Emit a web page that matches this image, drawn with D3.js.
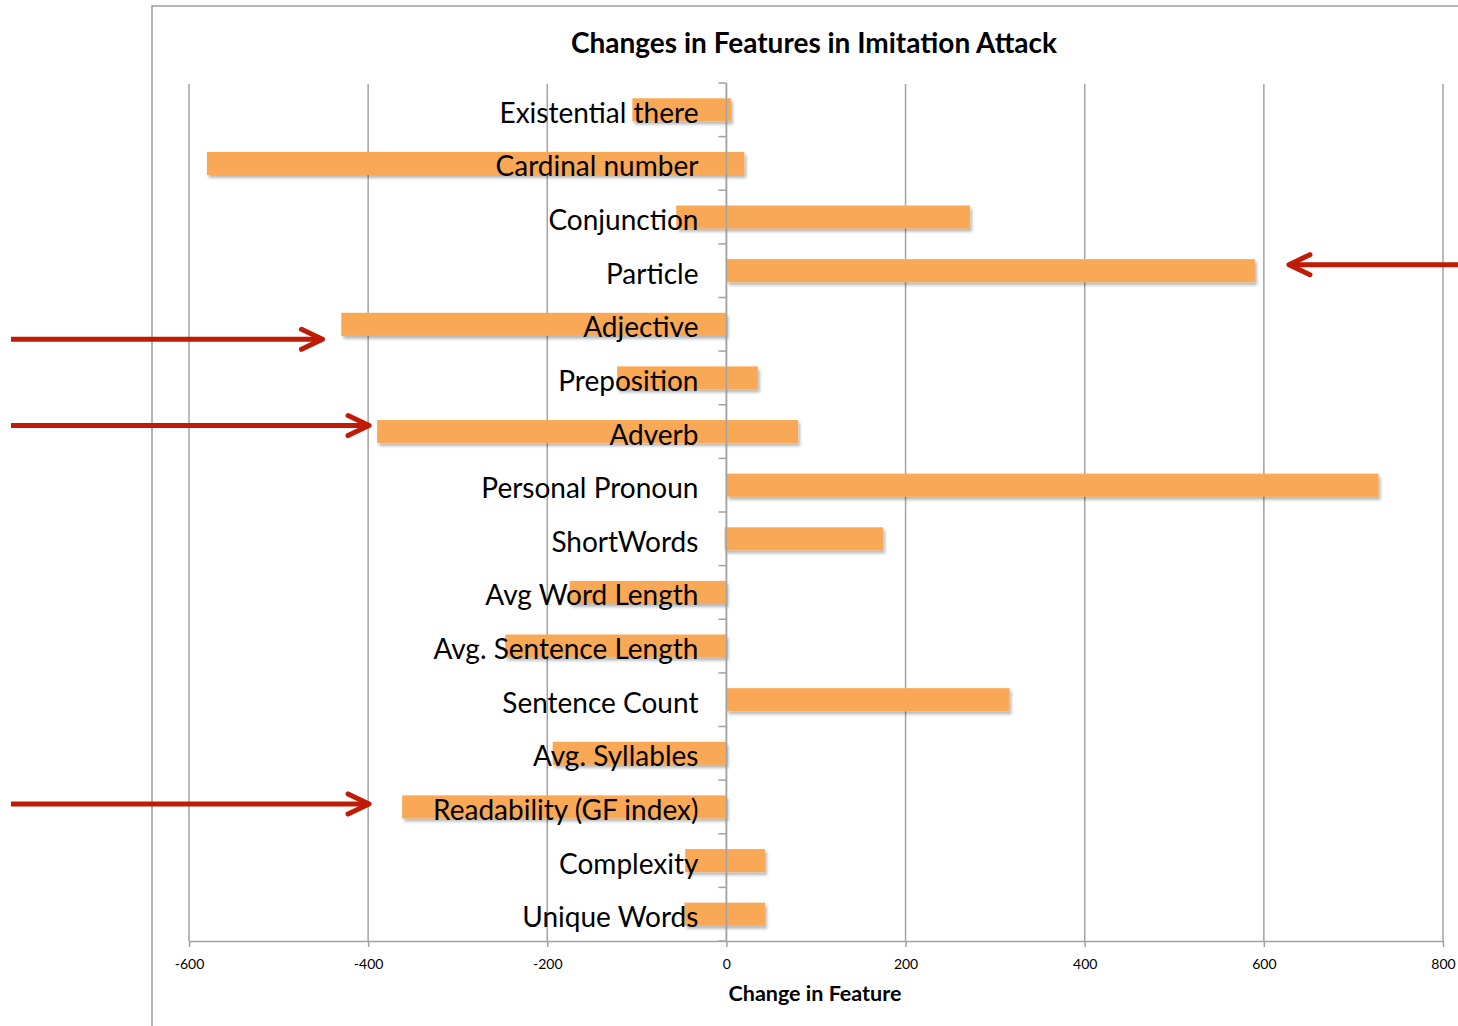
<!DOCTYPE html>
<html>
<head>
<meta charset="utf-8">
<script src="https://cdn.jsdelivr.net/npm/d3@7"></script>
<style>
  body { margin: 0; background: #fff; }
  svg { display: block; }
</style>
</head>
<body>
<svg id="chart" width="1458" height="1026"></svg>
<script>
// Features, top to bottom
const categories = [
  "Existential there", "Cardinal number", "Conjunction", "Particle",
  "Adjective", "Preposition", "Adverb", "Personal Pronoun", "ShortWords",
  "Avg Word Length", "Avg. Sentence Length", "Sentence Count",
  "Avg. Syllables", "Readability (GF index)", "Complexity", "Unique Words"
];
// Summed decreases (stacked to the left of zero)
const decreases = [-105, -580, -56, 0, -430, -122, -390, 0, -2, -175, -247, 0, -194, -362, -46, -47];
// Summed increases (stacked to the right of zero)
const increases = [5, 20, 272, 590, 0, 35, 80, 728, 175, 0, 0, 316, 0, 0, 43, 43];
const xTicks = [-600, -400, -200, 0, 200, 400, 600, 800];

// Red call-out arrows: the feature pointed at and the value where the head sits
const callouts = [
  { feature: "Particle", tip: 628, from: "right" },
  { feature: "Adjective", tip: -451, from: "left" },
  { feature: "Adverb", tip: -399, from: "left" },
  { feature: "Readability (GF index)", tip: -399, from: "left" }
];
const calloutShift = { "Particle": -6, "Adjective": 15, "Adverb": -6, "Readability (GF index)": -3 };

const svg = d3.select("#chart");
const W = 1458, H = 1026;
const plot = { left: 189, right: 1443, top: 83, bottom: 941 };
const font = "Lato, 'Open Sans', sans-serif";

const x = d3.scaleLinear().domain([-600, 800]).range([plot.left, plot.right]);
const y = d3.scaleBand().domain(categories).range([plot.top, plot.bottom]).paddingInner(0.57).paddingOuter(0.285);

const defs = svg.append("defs");
const shadow = defs.append("filter").attr("id", "barShadow")
  .attr("x", "-5%").attr("y", "-40%").attr("width", "110%").attr("height", "190%");
shadow.append("feDropShadow")
  .attr("dx", 2).attr("dy", 3).attr("stdDeviation", 1.8)
  .attr("flood-color", "#000").attr("flood-opacity", 0.28);

// Outer chart frame (left and top edges)
svg.append("path")
  .attr("d", `M152,${H} V6 H${W}`)
  .attr("fill", "none").attr("stroke", "#9c9c9c").attr("stroke-width", 1.5);

// Title
svg.append("text")
  .attr("x", 814).attr("y", 53)
  .attr("text-anchor", "middle")
  .attr("font-family", font).attr("font-weight", 700).attr("font-size", 28)
  .text("Changes in Features in Imitation Attack");

// Vertical gridlines
svg.append("g").selectAll("line").data(xTicks).join("line")
  .attr("x1", d => x(d)).attr("x2", d => x(d))
  .attr("y1", plot.top + 1).attr("y2", plot.bottom)
  .attr("stroke", "#a3a3a3").attr("stroke-width", 1.5);

// Bars: decrease part and increase part of each feature
const rows = categories.map((c, i) => ({ c, lo: decreases[i], hi: increases[i] }));
svg.append("g").attr("filter", "url(#barShadow)")
  .selectAll("rect").data(rows).join("rect")
  .attr("x", d => x(d.lo))
  .attr("width", d => x(d.hi) - x(d.lo))
  .attr("y", d => y(d.c))
  .attr("height", y.bandwidth())
  .attr("fill", "#f9a857");

// X axis
const xAxis = svg.append("g").attr("transform", `translate(0,${plot.bottom})`)
  .call(d3.axisBottom(x).tickValues(xTicks).tickFormat(d => String(d))
    .tickSize(6).tickPadding(12).tickSizeOuter(0));
xAxis.select(".domain").attr("stroke", "#a3a3a3").attr("stroke-width", 1.5);
xAxis.selectAll(".tick line").attr("stroke", "#a3a3a3").attr("stroke-width", 1.5);
xAxis.selectAll(".tick text")
  .attr("font-family", font).attr("font-size", 14).attr("fill", "#000");

// Y axis at zero with ticks between categories
const bounds = d3.range(categories.length + 1).map(i => plot.top + i * y.step());
const yAxis = svg.append("g");
yAxis.append("line")
  .attr("x1", x(0)).attr("x2", x(0)).attr("y1", plot.top).attr("y2", plot.bottom)
  .attr("stroke", "#a3a3a3").attr("stroke-width", 1.5);
yAxis.selectAll("line.tick").data(bounds).join("line").attr("class", "tick")
  .attr("x1", x(0) - 8).attr("x2", x(0))
  .attr("y1", d => d).attr("y2", d => d)
  .attr("stroke", "#a3a3a3").attr("stroke-width", 1.5);

// Category labels drawn over the bars
svg.append("g").selectAll("text").data(categories).join("text")
  .attr("x", x(0) - 28)
  .attr("y", d => y(d) + y.bandwidth() / 2 + 13)
  .attr("text-anchor", "end")
  .attr("font-family", font).attr("font-size", 28).attr("fill", "#000")
  .text(d => d);

// Axis title
svg.append("text")
  .attr("x", 815).attr("y", 1001)
  .attr("text-anchor", "middle")
  .attr("font-family", font).attr("font-weight", 700).attr("font-size", 21.5)
  .text("Change in Feature");

// Call-out arrows
const red = "#c01b06";
const arrows = svg.append("g").attr("fill", "none").attr("stroke", red)
  .attr("stroke-width", 5).attr("stroke-linecap", "round").attr("stroke-linejoin", "round");
callouts.forEach(a => {
  const cy = y(a.feature) + y.bandwidth() / 2 + calloutShift[a.feature];
  const tx = x(a.tip);
  const dir = a.from === "left" ? 1 : -1;
  const tail = a.from === "left" ? 11 : W + 5;
  arrows.append("line")
    .attr("x1", tail).attr("x2", tx - dir * 3)
    .attr("y1", cy).attr("y2", cy).attr("stroke-linecap", "butt");
  arrows.append("path")
    .attr("d", `M${tx - dir * 21},${cy - 10} L${tx},${cy} L${tx - dir * 21},${cy + 10}`);
});
</script>
</body>
</html>
